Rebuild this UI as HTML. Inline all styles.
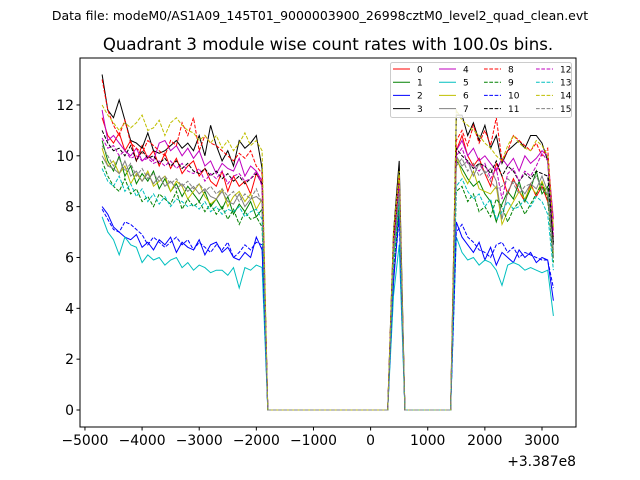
<!DOCTYPE html>
<html><head><meta charset="utf-8"><style>
body{margin:0;background:#fff;}
svg{display:block;font-family:"DejaVu Sans","Liberation Sans",sans-serif;}
</style></head><body>
<svg id="chart" width="640" height="480">
<rect width="640" height="480" fill="#fff"/>
<text x="320" y="20" font-size="12.5" text-anchor="middle">Data file: modeM0/AS1A09_145T01_9000003900_26998cztM0_level2_quad_clean.evt</text>
<text x="328" y="50" font-size="16.6" text-anchor="middle">Quadrant 3 module wise count rates with 100.0s bins.</text>
<g id="plot"></g>
<g id="axes"></g>
<g id="legend"></g>
</svg>
<script>
const segTimesA=[-4700,-4600,-4500,-4400,-4300,-4200,-4100,-4000,-3900,-3800,-3700,-3600,-3500,-3400,-3300,-3200,-3100,-3000,-2900,-2800,-2700,-2600,-2500,-2400,-2300,-2200,-2100,-2000,-1900];
const gapTimes1=[-1800,-1700,-1600,-1500,-1400,-1300,-1200,-1100,-1000,-900,-800,-700,-600,-500,-400,-300,-200,-100,0,100,200,300];
const peakTimes=[400,500];
const gapTimes2=[600,700,800,900,1000,1100,1200,1300,1400];
const segTimesB=[1500,1600,1700,1800,1900,2000,2100,2200,2300,2400,2500,2600,2700,2800,2900,3000,3100,3200];
const xTicks=[-5000,-4000,-3000,-2000,-1000,0,1000,2000,3000];
const yTicks=[0,2,4,6,8,10,12];
const seriesNames=["0","1","2","3","4","5","6","7","8","9","10","11","12","13","14","15"];
const segA=[
[11.5,10.8,10.5,10.9,10.2,10.6,9.8,10.4,9.9,10.2,9.6,10.1,9.5,9.9,9.3,9.6,9.8,9.2,9.5,9.0,8.8,9.4,8.6,9.2,8.8,9.0,8.5,9.3,8.9],
[10.6,9.8,9.4,10.0,9.2,9.6,8.9,9.3,9.0,9.4,8.7,9.1,8.6,8.9,8.4,8.8,8.5,8.2,8.6,8.0,8.3,7.9,8.4,7.7,8.1,7.8,8.2,7.6,7.9],
[8.0,7.7,7.2,7.0,6.8,6.7,6.9,6.4,6.6,6.3,6.7,6.5,6.8,6.2,6.6,6.4,6.3,6.7,6.1,6.5,6.6,6.2,6.4,6.0,5.9,6.2,6.0,6.8,6.3],
[13.2,11.8,11.5,12.2,11.4,10.6,10.5,10.3,10.9,10.2,10.1,10.2,10.4,10.6,10.3,10.5,10.2,10.8,10.0,11.2,10.4,9.8,10.2,9.6,10.6,10.3,10.5,10.8,9.5],
[11.8,10.6,10.8,10.5,10.2,10.0,10.3,9.8,10.0,9.8,10.5,10.6,10.2,10.4,10.0,10.3,9.9,10.2,9.6,9.8,9.3,9.7,9.5,9.4,9.9,9.2,9.6,9.4,9.0],
[7.6,7.0,6.7,6.1,6.8,6.5,6.4,5.8,6.1,5.9,6.0,5.7,5.9,6.0,5.6,5.8,5.5,5.7,5.6,5.4,5.5,5.5,5.3,5.6,4.8,5.6,5.5,5.7,5.6],
[10.3,9.6,9.8,9.3,9.6,8.9,9.3,9.0,9.4,8.8,9.0,9.2,8.6,9.0,8.8,8.3,8.6,8.9,8.4,8.1,8.3,8.7,8.0,8.4,8.6,8.2,8.5,7.9,8.3],
[10.0,9.6,9.5,9.3,9.8,9.2,9.4,9.0,9.3,8.9,9.2,8.8,9.0,8.7,8.9,8.6,8.8,8.5,8.7,8.4,8.3,8.6,8.2,8.1,8.5,8.0,8.3,8.4,8.2],
[13.0,11.8,11.2,10.8,11.4,10.5,10.3,10.1,10.6,10.4,10.2,10.0,10.6,10.4,11.3,10.8,11.5,10.2,10.8,10.5,10.4,10.2,10.0,9.8,10.1,9.9,10.2,9.6,9.3],
[9.8,9.2,8.8,8.6,9.1,8.5,8.7,8.2,8.4,8.0,8.5,8.3,8.1,8.6,7.9,8.3,8.0,8.2,7.8,8.1,7.7,8.0,7.5,7.9,7.3,7.8,7.5,7.6,7.2],
[7.9,7.5,7.1,7.0,7.4,7.3,7.1,6.9,6.5,6.8,6.6,6.4,6.6,6.8,6.5,6.7,6.3,6.6,6.4,6.2,6.5,6.3,6.6,6.0,6.2,6.5,6.3,6.6,6.5],
[11.0,10.5,10.2,10.3,10.0,10.4,9.8,10.2,9.9,10.0,9.7,9.9,9.6,9.8,9.5,9.7,9.4,9.3,9.5,9.2,9.4,9.1,9.3,9.0,9.2,8.9,9.1,9.3,8.9],
[10.7,10.3,10.4,10.0,10.2,9.9,10.0,9.8,9.9,9.7,9.8,9.6,9.8,9.5,9.7,9.4,9.3,9.5,9.0,9.3,9.1,9.4,8.9,9.2,9.3,9.0,9.1,9.4,8.8],
[9.5,9.0,8.8,9.2,8.6,8.9,8.4,8.7,8.2,8.5,8.1,8.4,8.0,8.3,8.2,8.0,8.1,7.9,8.2,7.8,8.0,7.7,7.9,7.8,8.0,7.6,7.8,7.9,7.5],
[12.0,11.6,11.3,11.0,11.3,11.1,11.3,11.6,11.0,11.1,11.4,10.8,11.3,11.5,11.2,11.0,10.9,10.6,10.8,10.5,10.8,10.3,10.6,10.2,10.5,10.9,10.4,10.6,10.2],
[10.4,10.0,9.6,9.9,9.4,9.7,9.2,9.5,9.1,9.3,9.0,9.2,8.9,9.1,8.8,9.0,8.7,8.9,8.6,8.8,8.5,8.7,8.4,8.6,8.2,8.5,8.3,8.7,8.1]];
const peakVals=[[6.5,8.8],[6.0,8.2],[5.0,7.8],[7.0,9.8],[6.2,8.5],[4.5,6.5],[6.0,8.6],[6.3,8.7],[6.8,9.2],[5.5,8.0],[5.2,7.5],[6.6,9.0],[6.4,8.9],[5.8,8.3],[7.0,9.4],[6.1,8.6]];
const segB=[
[10.2,10.8,10.0,9.6,9.9,9.3,8.8,9.7,9.2,8.5,9.1,8.6,8.2,8.9,8.4,8.8,8.2,6.8],
[9.8,9.5,9.1,8.8,9.0,8.5,8.2,7.4,8.1,8.6,8.3,9.0,8.2,8.7,9.4,8.5,8.8,6.0],
[7.4,6.8,6.5,6.2,6.6,5.9,6.4,5.7,6.2,6.0,5.8,6.3,6.0,6.2,5.8,6.0,5.9,4.3],
[11.6,11.6,10.8,11.3,10.6,11.2,10.3,10.8,9.7,10.2,10.4,10.6,10.3,10.8,10.8,10.5,9.8,6.5],
[10.2,10.6,10.0,10.3,9.8,10.0,9.7,9.4,9.9,9.6,9.9,9.4,10.0,9.7,9.9,10.2,10.0,7.5],
[6.8,6.2,5.9,6.0,5.7,5.9,5.8,5.5,4.9,5.7,5.8,5.7,5.5,5.6,5.5,5.4,5.5,3.7],
[10.0,9.3,8.9,9.4,8.7,8.6,8.5,8.8,7.3,7.8,8.2,8.6,8.3,8.8,8.5,9.0,8.4,6.2],
[10.0,9.6,9.8,9.2,9.7,9.3,9.5,9.0,7.5,8.6,9.0,8.8,8.5,8.9,8.7,9.2,8.6,6.3],
[10.6,11.0,10.4,11.2,10.5,11.0,10.4,11.5,9.8,10.2,10.8,10.6,10.4,10.2,10.5,10.0,10.3,7.0],
[8.6,8.8,8.2,8.5,7.8,8.0,7.6,8.3,8.0,7.4,7.9,8.2,7.7,8.1,8.5,8.9,8.3,5.8],
[7.0,7.3,6.8,6.6,6.3,6.2,6.0,6.5,6.6,6.2,6.4,6.0,6.2,6.1,6.0,5.9,5.9,4.8],
[10.3,10.0,9.8,9.5,9.7,9.6,9.3,9.8,9.2,9.6,9.4,9.0,9.3,9.1,9.4,9.3,9.2,6.6],
[10.0,10.3,9.7,9.6,9.4,9.7,9.1,9.5,8.3,9.3,9.5,9.0,9.4,9.2,9.6,10.1,9.8,6.9],
[8.8,9.1,8.6,8.3,8.5,8.0,8.3,7.5,7.8,8.2,7.9,8.0,8.3,8.0,8.4,8.2,7.7,5.5],
[11.8,11.4,11.2,11.0,10.8,10.5,10.3,10.0,9.8,10.4,10.8,10.5,10.3,10.2,10.6,10.4,10.0,7.2],
[9.6,9.9,9.4,9.7,9.2,9.4,9.0,8.7,8.8,9.1,8.9,8.5,8.8,8.9,9.2,8.7,8.5,6.0]];
const colors=["#ff0000","#008000","#0000ff","#000000","#bf00bf","#00bfbf","#bfbf00","#808080"];
const L=80,R=576,T=58,B=427;
const xs=t=>370.6+t*0.05713;
const ys=v=>410-v*25.42;
const NS="http://www.w3.org/2000/svg";
function mk(tag,attrs,parent){const e=document.createElementNS(NS,tag);for(const k in attrs)e.setAttribute(k,attrs[k]);parent.appendChild(e);return e;}
const plot=document.getElementById('plot');
const times=segTimesA.concat(gapTimes1,peakTimes,gapTimes2,segTimesB);
for(let i=0;i<16;i++){
  const vals=segA[i].concat(gapTimes1.map(()=>0),peakVals[i],gapTimes2.map(()=>0),segB[i]);
  const d=times.map((t,j)=>(j?'L':'M')+xs(t).toFixed(1)+' '+ys(vals[j]).toFixed(1)).join(' ');
  const p=mk('path',{d:d,fill:'none',stroke:colors[i%8],'stroke-width':1},plot);
  if(i>=8)p.setAttribute('stroke-dasharray','3.7,1.6');
  
  
}
const ax=document.getElementById('axes');
const fr=mk('rect',{x:L,y:T,width:R-L,height:B-T,fill:'none',stroke:'#000','stroke-width':1},ax);


xTicks.forEach(t=>{const x=xs(t);
  mk('line',{x1:x,x2:x,y1:B,y2:B+3.5,stroke:'#000'},ax);
  const tx=mk('text',{x:x,y:B+18,'font-size':13.9,'text-anchor':'middle'},ax);
  tx.textContent=t<0?'\u2212'+(-t):String(t);
  
  });
yTicks.forEach(v=>{const y=ys(v);
  mk('line',{x1:L-3.5,x2:L,y1:y,y2:y,stroke:'#000'},ax);
  const tx=mk('text',{x:L-6,y:y+5,'font-size':13.9,'text-anchor':'end'},ax);
  tx.textContent=v;
  
  });
const off=mk('text',{x:576,y:466,'font-size':13.9,'text-anchor':'end'},ax);
off.textContent='+3.387e8';


const lg=document.getElementById('legend');
const lb=mk('rect',{x:390.5,y:62.5,width:181,height:55,rx:2,fill:'#fff','fill-opacity':0.8,stroke:'#ccc'},lg);


const colX=[393,439,484,536];
for(let i=0;i<16;i++){
  const c=Math.floor(i/4),r=i%4;
  const x0=colX[c],y0=69+r*13.2;
  const g=mk('g',{},lg);
  
  
  const ln=mk('line',{x1:x0,x2:x0+17,y1:y0,y2:y0,stroke:colors[i%8],'stroke-width':1},g);
  if(i>=8)ln.setAttribute('stroke-dasharray','3.7,1.6');
  const t=mk('text',{x:x0+24,y:y0+3.3,'font-size':9},g);
  t.textContent=seriesNames[i];
}
</script>
</body></html>
